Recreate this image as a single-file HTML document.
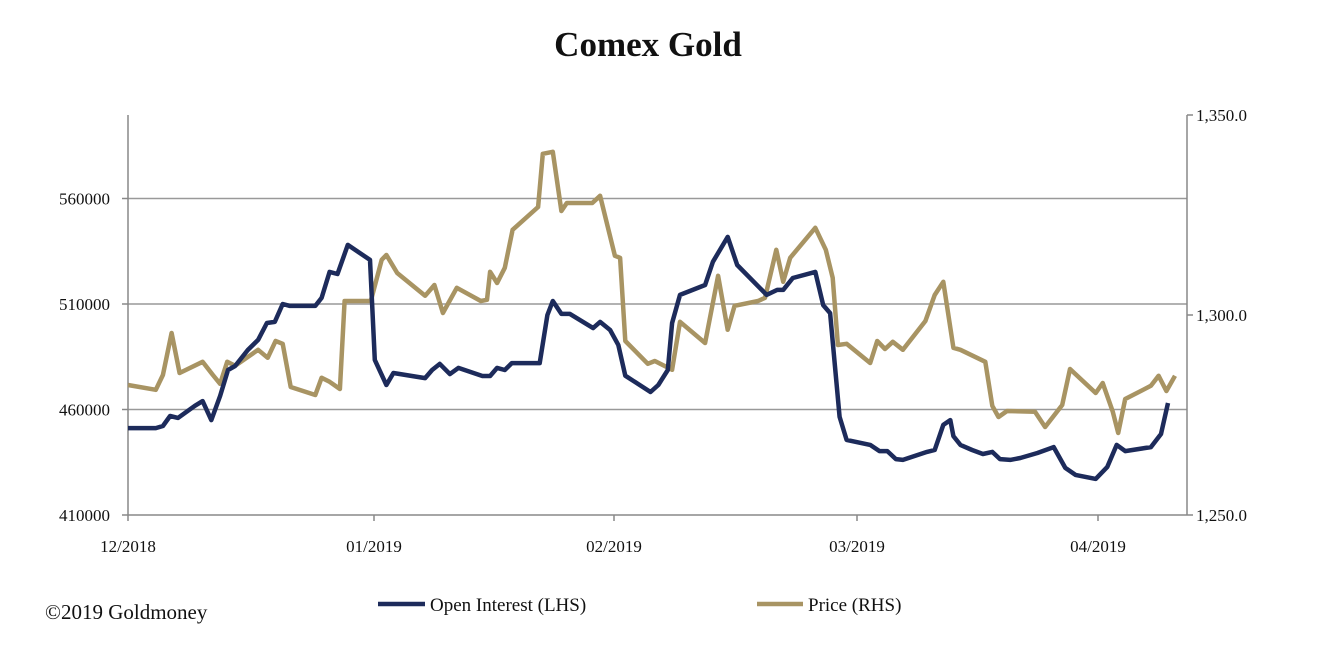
<!DOCTYPE html>
<html><head><meta charset="utf-8"><style>
html,body{margin:0;padding:0;background:#fff;}
svg{display:block;font-family:"Liberation Serif",serif;}
</style></head><body>
<svg id="chart" width="1320" height="655" viewBox="0 0 1320 655">
<text x="648" y="56" text-anchor="middle" font-size="35" font-weight="bold" fill="#111">Comex Gold</text>
<g id="grid"></g>
<g id="axes"></g>
<g id="series"></g>
<g>
<g>
<line x1="378" y1="604" x2="425" y2="604" stroke="#1d2b5b" stroke-width="4.5"/>
<text x="430" y="611" font-size="19" fill="#111">Open Interest (LHS)</text></g>
<g>
<line x1="757" y1="604" x2="803" y2="604" stroke="#a89463" stroke-width="4.5"/>
<text x="808" y="611" font-size="19" fill="#111">Price (RHS)</text></g>
</g>
<text x="45" y="619" font-size="21" fill="#111">©2019 Goldmoney</text>
</svg>
<script>
// x-axis: day offsets from 2018-12-01
const monthTickDays = [0, 31, 62, 90, 121];
const monthTickLabels = ["12/2018", "01/2019", "02/2019", "03/2019", "04/2019"];
const leftTicks = [410000, 460000, 510000, 560000];
const leftTickLabels = ["410000", "460000", "510000", "560000"];
const rightTicks = [1250, 1300, 1350];
const rightTickLabels = ["1,250.0", "1,300.0", "1,350.0"];
const oiDays = [0,3.5,4.4,5.3,6.3,8.4,9.4,10.5,11.6,12.6,13.5,15.1,16.4,17.5,18.5,19.5,20.4,23.6,24.4,25.4,26.4,27.7,30.5,31.1,32.6,33.5,37.6,38.5,39.5,40.8,41.9,45,46,46.9,47.9,48.8,52.4,53.4,54.1,55.2,56.3,59.3,60.2,61.5,62.5,63.3,66.2,67.1,68.2,68.7,69.6,72.5,73.4,75.1,76.2,79.6,80.8,81.5,82.6,85.2,86.1,86.9,88,88.8,91.7,92.9,93.9,95,95.9,99,100,101.1,102,102.4,103.3,104.8,106.2,107.4,108.4,109.7,111,113.2,115.3,116.8,118.1,120.7,122.2,123.4,124.5,127.8,129.1,130];
const oiValues = [451200,451200,452200,456900,456000,461700,464000,455000,466400,478700,480600,488200,493000,501000,501500,510000,509100,509100,512900,525200,524200,538000,530900,483500,471600,477300,474900,478700,481600,476800,479700,475900,475900,479700,478700,482000,482000,504800,511400,505300,505300,498600,501500,497700,490600,476000,468300,471600,478700,501000,514300,519000,530000,541800,528500,514300,516700,516700,522300,525200,509500,505700,456500,445600,443200,440300,440300,436500,436100,439900,440800,452700,455000,447400,443200,440800,438900,439900,436500,436100,437000,439400,442200,432300,429000,427100,432800,443200,440300,442200,448400,463100];
const priceDays = [0,3.5,4.4,5.5,6.5,9.4,10.7,11.6,12.5,13.5,16.4,17.6,18.6,19.5,20.5,23.6,24.4,25.4,26.7,27.3,30.6,32,32.6,34,37.6,38.8,39.9,41.7,44.8,45.6,46,46.9,47.9,48.9,52.2,52.8,54.1,55.2,55.9,59.2,60.2,62.1,62.7,63.3,65.9,66.7,68.7,69.6,72.5,74,75.1,75.9,78.6,79.4,80.7,81.5,82.3,85.2,86.4,87.2,87.8,88.8,91.7,92.6,93.6,94.6,95.9,98.8,100,101.1,102.4,103.3,106.5,107.4,108.2,109.3,112.9,114.2,116.4,117.4,120.7,121.6,122.9,123.6,124.5,127.8,128.8,129.8,130.9];
const priceValues = [1282.5,1281.3,1285,1295.5,1285.5,1288.3,1285,1282.8,1288.3,1287.3,1291.3,1289.3,1293.5,1292.8,1282,1280,1284.3,1283.3,1281.5,1303.5,1303.5,1313.8,1315,1310.5,1304.8,1307.5,1300.5,1306.8,1303.5,1303.8,1310.8,1308,1311.8,1321.3,1327,1340.3,1340.8,1326,1328,1328,1329.8,1314.8,1314.3,1293.5,1287.8,1288.5,1286.3,1298.3,1293,1309.8,1296.3,1302.3,1303.5,1304.3,1316.3,1308.3,1314.3,1321.8,1316.3,1309.3,1292.5,1292.8,1288,1293.5,1291.5,1293.3,1291.3,1298.5,1305,1308.3,1291.8,1291.3,1288.3,1277.3,1274.5,1276,1275.8,1272,1277.5,1286.5,1280.5,1283,1275.8,1270.5,1279,1282.3,1284.8,1281,1284.8];

const NS = "http://www.w3.org/2000/svg";
const X0 = 128, X1 = 1187, YB = 515, YT = 115;
const tickPx = [128, 374, 614, 857, 1098];
function xScale(d) {
  for (let i = 0; i < monthTickDays.length - 1; i++) {
    if (d <= monthTickDays[i + 1] || i === monthTickDays.length - 2) {
      const a = monthTickDays[i], b = monthTickDays[i + 1];
      return tickPx[i] + (d - a) / (b - a) * (tickPx[i + 1] - tickPx[i]);
    }
  }
}
function yLeft(v) { return YB - (v - 410000) / 50000 * 105.5; }
function yRight(v) { return YB - (v - 1250) / 100 * 400; }
function mk(tag, attrs, parent) {
  const el = document.createElementNS(NS, tag);
  for (const k in attrs) el.setAttribute(k, attrs[k]);
  parent.appendChild(el);
  return el;
}
const grid = document.getElementById("grid");
const axes = document.getElementById("axes");
const series = document.getElementById("series");

leftTicks.forEach((v, i) => {
  const y = yLeft(v);
  if (i > 0) {
    const g = mk("line", {x1: X0, x2: X1, y1: y, y2: y, stroke: "#999", "stroke-width": 1.5}, grid);
    
    
  }
  mk("line", {x1: X0 - 6, x2: X0, y1: y, y2: y, stroke: "#888", "stroke-width": 1.5}, axes);
  const t = mk("text", {x: 110, y: y + 6, "text-anchor": "end", "font-size": 17, fill: "#111"}, axes);
  t.textContent = leftTickLabels[i];
  
  
});
rightTicks.forEach((v, i) => {
  const y = yRight(v);
  mk("line", {x1: X1, x2: X1 + 6, y1: y, y2: y, stroke: "#888", "stroke-width": 1.5}, axes);
  const t = mk("text", {x: 1196, y: y + 6, "font-size": 17, fill: "#111"}, axes);
  t.textContent = rightTickLabels[i];
  
  
});
const la = mk("line", {x1: X0, x2: X0, y1: YT, y2: YB, stroke: "#888", "stroke-width": 1.5}, axes);


const ra = mk("line", {x1: X1, x2: X1, y1: YT, y2: YB, stroke: "#888", "stroke-width": 1.5}, axes);


const xa = mk("line", {x1: X0, x2: X1, y1: YB, y2: YB, stroke: "#888", "stroke-width": 1.5}, axes);


monthTickDays.forEach((d, i) => {
  const x = xScale(d);
  mk("line", {x1: x, x2: x, y1: YB, y2: YB + 6, stroke: "#888", "stroke-width": 1.5}, axes);
  const t = mk("text", {x: x, y: 552, "text-anchor": "middle", "font-size": 17, fill: "#111"}, axes);
  t.textContent = monthTickLabels[i];
  
  
});
const pricePts = priceDays.map((d, i) => xScale(d).toFixed(1) + "," + yRight(priceValues[i]).toFixed(1)).join(" ");
const pl = mk("polyline", {points: pricePts, fill: "none", stroke: "#a89463", "stroke-width": 4.5, "stroke-linejoin": "round"}, series);


const oiPts = oiDays.map((d, i) => xScale(d).toFixed(1) + "," + yLeft(oiValues[i]).toFixed(1)).join(" ");
const ol = mk("polyline", {points: oiPts, fill: "none", stroke: "#1d2b5b", "stroke-width": 4.5, "stroke-linejoin": "round"}, series);


</script>
</body></html>
